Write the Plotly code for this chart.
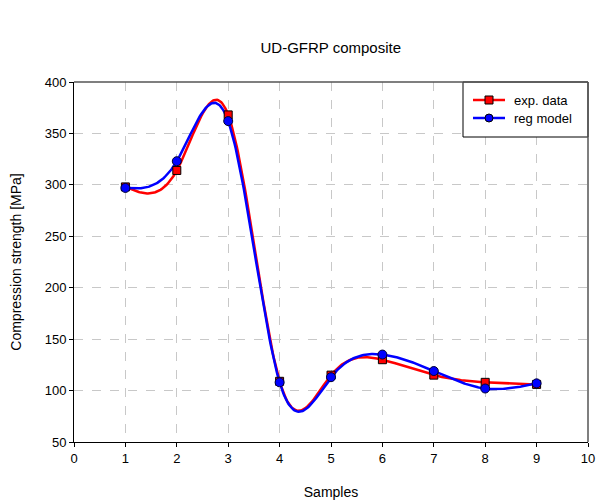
import numpy as np
import plotly.graph_objects as go

samples = [1, 2, 3, 4, 5, 6, 7, 8, 9]
exp_data = [298, 314, 368, 109, 115, 130, 115, 108, 106]
reg_model = [297, 323, 362, 108, 113, 135, 119, 102, 107]

x_ticks = list(range(0, 11))
y_ticks = list(range(50, 401, 50))


def natural_spline(xs, ys, n=400):
    """Smooth display curve through the data points (natural cubic spline)."""
    x = np.asarray(xs, float)
    y = np.asarray(ys, float)
    m = len(x)
    h = np.diff(x)
    A = np.zeros((m, m))
    b = np.zeros(m)
    A[0, 0] = A[-1, -1] = 1
    for i in range(1, m - 1):
        A[i, i - 1] = h[i - 1]
        A[i, i] = 2 * (h[i - 1] + h[i])
        A[i, i + 1] = h[i]
        b[i] = 6 * ((y[i + 1] - y[i]) / h[i] - (y[i] - y[i - 1]) / h[i - 1])
    M = np.linalg.solve(A, b)
    xx = np.linspace(x[0], x[-1], n)
    idx = np.clip(np.searchsorted(x, xx) - 1, 0, m - 2)
    x0, x1 = x[idx], x[idx + 1]
    hh = x1 - x0
    t0, t1 = x1 - xx, xx - x0
    yy = (M[idx] * t0 ** 3 + M[idx + 1] * t1 ** 3) / (6 * hh) \
        + (y[idx] / hh - M[idx] * hh / 6) * t0 + (y[idx + 1] / hh - M[idx + 1] * hh / 6) * t1
    return xx, yy


fig = go.Figure()
series = [
    ("exp. data", exp_data, "#ff0000", "square", 8, "#000000"),
    ("reg model", reg_model, "#0000ff", "circle", 9, "#000033"),
]
for name, vals, color, sym, size, edge in series:
    cx, cy = natural_spline(samples, vals)
    fig.add_trace(go.Scatter(x=cx, y=cy, mode="lines", showlegend=False, hoverinfo="skip",
                             line=dict(color=color, width=2.5)))
for name, vals, color, sym, size, edge in series:
    fig.add_trace(go.Scatter(
        x=samples, y=vals, name=name, mode="markers", showlegend=False,
        marker=dict(symbol=sym, size=size, color=color, line=dict(color=edge, width=1)),
    ))

font_family = "Liberation Sans, Arial, sans-serif"
fig.update_layout(
    width=596, height=502,
    margin=dict(l=74, r=8, t=82, b=60),
    paper_bgcolor="white", plot_bgcolor="white",
    font=dict(family=font_family, size=13, color="#000000"),
    title=dict(text="UD-GFRP composite", x=0.555, xanchor="center", y=0.905, yanchor="middle",
               font=dict(size=15, family=font_family, color="#000000")),
    showlegend=False,
    xaxis=dict(range=[0, 10], tickvals=x_ticks, showgrid=True, gridcolor="#c8c8c8",
               griddash="dash", gridwidth=1, showline=True, linecolor="#000000", linewidth=1,
               ticks="outside", ticklen=4, tickcolor="#000000", zeroline=False, automargin=False,
               title=dict(text="Samples", standoff=22, font=dict(size=14))),
    yaxis=dict(range=[50, 400], tickvals=y_ticks, showgrid=True, gridcolor="#c8c8c8",
               griddash="dash", gridwidth=1, showline=True, linecolor="#000000", linewidth=1,
               ticks="outside", ticklen=4, tickcolor="#000000", zeroline=False, automargin=False,
               title=dict(text="Compression strength [MPa]", standoff=19, font=dict(size=14))),
)

# custom legend box drawn in paper coordinates
PL, PR, PT, PB = 74, 588, 82, 442


def px(xp):
    return (xp - PL) / (PR - PL)


def py(yp):
    return (PB - yp) / (PB - PT)


shapes = [
    dict(type="rect", xref="paper", yref="paper", x0=px(463), x1=1.0, y0=py(137), y1=1.0,
         fillcolor="white", line=dict(color="#000000", width=1), layer="above"),
    dict(type="line", xref="paper", yref="paper", x0=0, x1=1, y0=1, y1=1,
         line=dict(color="#555555", width=1.5), layer="above"),
    dict(type="line", xref="paper", yref="paper", x0=1, x1=1, y0=0, y1=1,
         line=dict(color="#555555", width=1.5), layer="above"),
]
annotations = []
for i, (name, vals, color, sym, size, edge) in enumerate(series):
    ypx = 100 + 18 * i
    yp = py(ypx)
    shapes.append(dict(type="line", xref="paper", yref="paper",
                       x0=px(473), x1=px(505), y0=yp, y1=yp,
                       line=dict(color=color, width=2.5), layer="above"))
    shapes.append(dict(type="rect" if sym == "square" else "circle",
                       xref="paper", yref="paper", xsizemode="pixel", ysizemode="pixel",
                       xanchor=px(489), yanchor=yp, x0=-4, x1=4, y0=-4, y1=4,
                       fillcolor=color, line=dict(color="#000000", width=1), layer="above"))
    annotations.append(dict(text=name, xref="paper", yref="paper", x=px(512), y=yp,
                            xanchor="left", yanchor="middle", showarrow=False,
                            font=dict(size=13, family=font_family, color="#000000")))
fig.update_layout(shapes=shapes, annotations=annotations)

fig.write_html("out.html")
